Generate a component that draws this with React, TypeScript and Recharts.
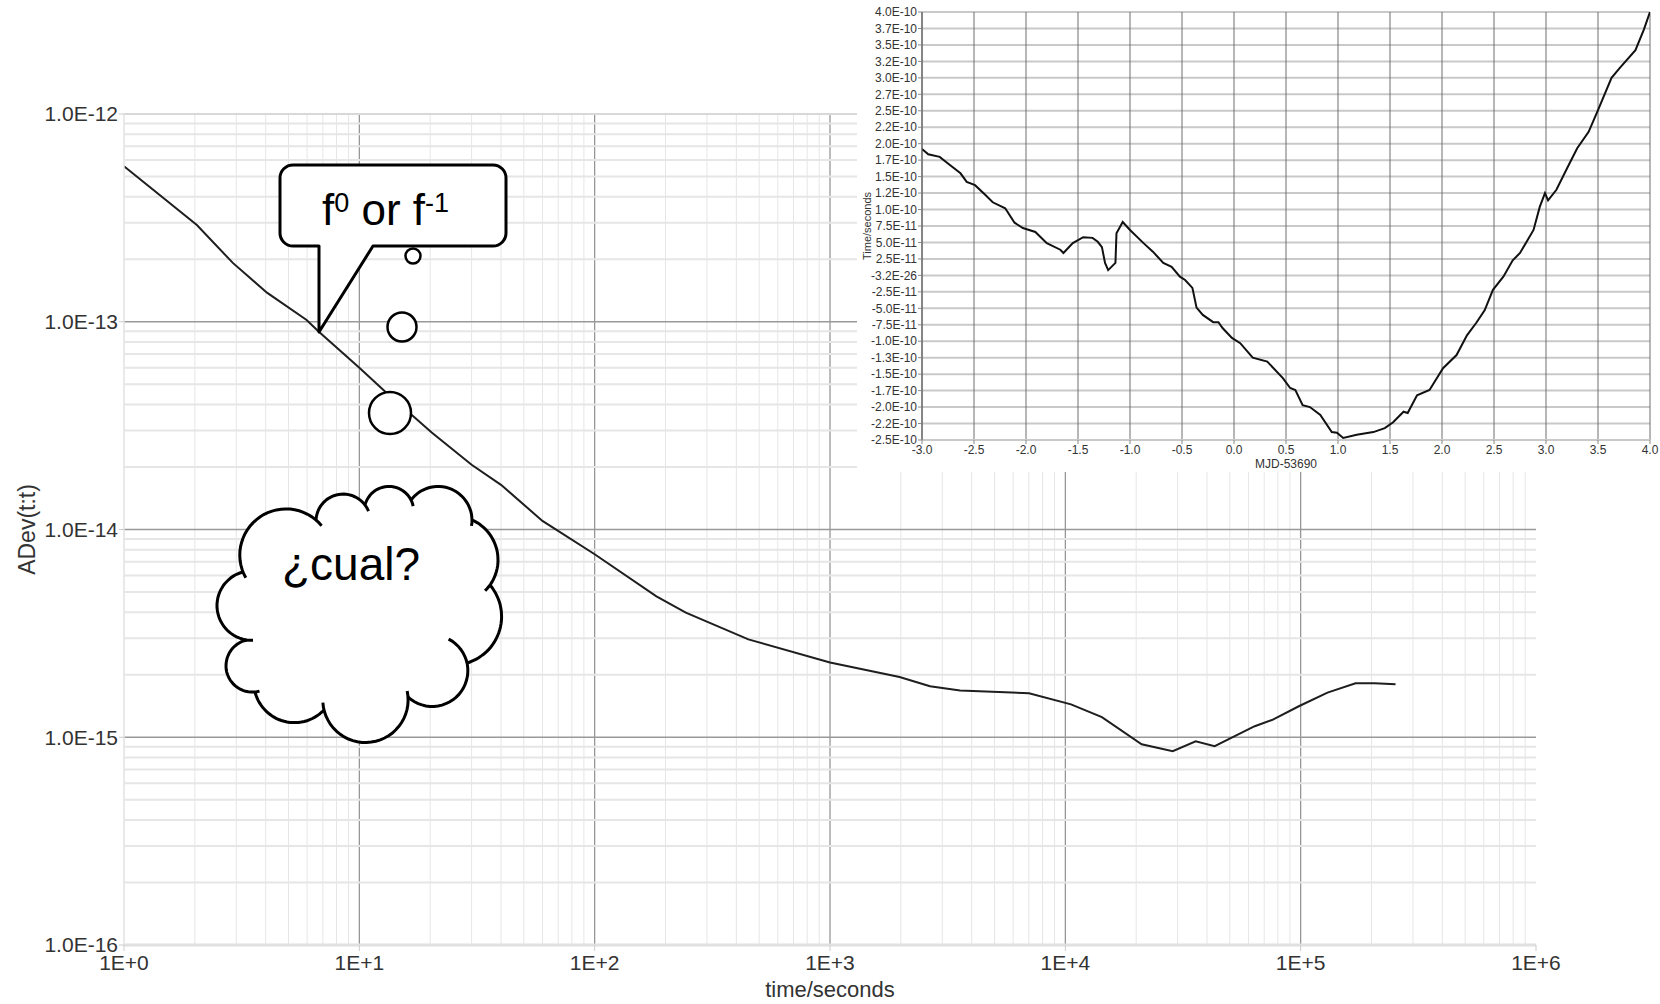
import React from 'react';
import { LineChart, Line, XAxis, YAxis, ReferenceLine, CartesianGrid } from 'recharts';

const FONT = '"Liberation Sans", Arial, sans-serif';

// main plot: Allan deviation vs averaging time
const TAU = [
  1, 2.04, 2.9, 4.05, 5.97, 6.73, 10, 13, 16.3, 20.3, 30, 40, 60, 100, 183, 244, 450, 1000, 1975,
  2660, 3570, 7010, 10570, 14300, 21100, 28600, 35800, 43100, 63800, 75500, 98200, 130000,
  171000, 206000, 253000,
];
const ADEV = [
  5.6e-13, 2.92e-13, 1.92e-13, 1.38e-13, 1.02e-13, 8.95e-14, 6.0e-14, 4.57e-14, 3.65e-14, 2.93e-14,
  2.05e-14, 1.64e-14, 1.1e-14, 7.6e-15, 4.77e-15, 3.98e-15, 2.96e-15, 2.29e-15, 1.95e-15,
  1.76e-15, 1.68e-15, 1.63e-15, 1.44e-15, 1.25e-15, 9.25e-16, 8.57e-16, 9.57e-16, 9.05e-16,
  1.13e-15, 1.21e-15, 1.41e-15, 1.64e-15, 1.82e-15, 1.82e-15, 1.8e-15,
];
const X_TICKS = [1, 10, 100, 1e3, 1e4, 1e5, 1e6];
const Y_TICKS = [1e-16, 1e-15, 1e-14, 1e-13, 1e-12];

// inset: time offset (units of 1e-10 s) vs MJD-53690
const MJD = [
  -3.0, -2.94, -2.83, -2.75, -2.63, -2.57, -2.49, -2.39, -2.32, -2.2, -2.11, -2.03, -1.91, -1.8,
  -1.67, -1.64, -1.55, -1.45, -1.36, -1.31, -1.27, -1.24, -1.21, -1.14, -1.13, -1.07, -1.0, -0.87,
  -0.78, -0.68, -0.6, -0.52, -0.47, -0.4, -0.36, -0.3, -0.2, -0.15, -0.11, -0.02, 0.06, 0.18, 0.32,
  0.47, 0.54, 0.59, 0.66, 0.73, 0.83, 0.94, 0.99, 1.05, 1.18, 1.34, 1.45, 1.53, 1.63, 1.67, 1.76,
  1.88, 2.01, 2.14, 2.24, 2.33, 2.41, 2.49, 2.59, 2.68, 2.75, 2.88, 2.94, 2.99, 3.02, 3.1, 3.21,
  3.3, 3.41, 3.5, 3.63, 3.71, 3.86, 3.94, 4.0,
];
const OFFSET_E10 = [
  1.92, 1.84, 1.8, 1.7, 1.55, 1.42, 1.37, 1.22, 1.11, 1.02, 0.8, 0.72, 0.66, 0.49, 0.39, 0.34, 0.49,
  0.58, 0.57, 0.51, 0.43, 0.19, 0.08, 0.19, 0.64, 0.81, 0.69, 0.49, 0.36, 0.19, 0.13, -0.02, -0.07,
  -0.19, -0.49, -0.6, -0.71, -0.71, -0.8, -0.95, -1.03, -1.25, -1.31, -1.56, -1.71, -1.74, -1.97,
  -2.0, -2.12, -2.38, -2.39, -2.47, -2.42, -2.38, -2.32, -2.23, -2.07, -2.09, -1.82, -1.74, -1.41,
  -1.21, -0.91, -0.72, -0.53, -0.22, -0.02, 0.23, 0.34, 0.69, 1.04, 1.25, 1.14, 1.3, 1.65, 1.93,
  2.18, 2.51, 3.0, 3.15, 3.42, 3.73, 4.0,
];
const INSET_X_TICKS = [-3, -2.5, -2, -1.5, -1, -0.5, 0, 0.5, 1, 1.5, 2, 2.5, 3, 3.5, 4];
const INSET_Y_TICKS = [
  4.0, 3.75, 3.5, 3.25, 3.0, 2.75, 2.5, 2.25, 2.0, 1.75, 1.5, 1.25, 1.0, 0.75, 0.5, 0.25, 0,
  -0.25, -0.5, -0.75, -1.0, -1.25, -1.5, -1.75, -2.0, -2.25, -2.5,
];
const INSET_Y_LABELS = [
  '4.0E-10', '3.7E-10', '3.5E-10', '3.2E-10', '3.0E-10', '2.7E-10', '2.5E-10', '2.2E-10',
  '2.0E-10', '1.7E-10', '1.5E-10', '1.2E-10', '1.0E-10', '7.5E-11', '5.0E-11', '2.5E-11',
  '-3.2E-26', '-2.5E-11', '-5.0E-11', '-7.5E-11', '-1.0E-10', '-1.3E-10', '-1.5E-10', '-1.7E-10',
  '-2.0E-10', '-2.2E-10', '-2.5E-10',
];

const mainData = TAU.map((t, i) => ({ tau: t, adev: ADEV[i] }));
const insetData = MJD.map((m, i) => ({ mjd: m, off: OFFSET_E10[i] }));

const MULT = [1, 2, 3, 4, 5, 6, 7, 8, 9];
const gridX = [1, 10, 100, 1e3, 1e4, 1e5].flatMap((d) => MULT.map((m) => m * d));
const gridY = [1e-16, 1e-15, 1e-14, 1e-13].flatMap((d) => MULT.map((m) => m * d));

// cloud outline: bumps between nodes, going clockwise
type Pt = [number, number];
const CLOUD_NODES: Pt[] = [
  [243, 572], [316, 520], [365, 505], [411, 500], [472, 520], [490, 585],
  [467, 663], [408, 697], [324, 710], [255, 692], [247, 640],
];
const CLOUD_BULGE = [35, 18, 16, 23, 16, 22, 25, 39, 21, 25, 28];
const CLOUD_STUB: [number, number][] = [
  [8, 10], [0, 15], [0, 15], [0, 10], [0, 10], [0, 0], [50, 0], [8, 10], [0, 0], [10, 0], [10, 0],
];

function arcPts(p0: Pt, p1: Pt, h: number, e0: number, e1: number, n = 30): Pt[] {
  const dx = p1[0] - p0[0];
  const dy = p1[1] - p0[1];
  const c = Math.hypot(dx, dy);
  const nx = dy / c;
  const ny = -dx / c;
  const r = (c * c) / 4 / (2 * h) + h / 2;
  const cx = (p0[0] + p1[0]) / 2 + nx * (h - r);
  const cy = (p0[1] + p1[1]) / 2 + ny * (h - r);
  const a0 = Math.atan2(p0[1] - cy, p0[0] - cx);
  let a1 = Math.atan2(p1[1] - cy, p1[0] - cx);
  while (a1 <= a0) a1 += 2 * Math.PI;
  const s = a0 - (e0 * Math.PI) / 180;
  const e = a1 + (e1 * Math.PI) / 180;
  const out: Pt[] = [];
  for (let k = 0; k <= n; k++) {
    const a = s + ((e - s) * k) / n;
    out.push([cx + r * Math.cos(a), cy + r * Math.sin(a)]);
  }
  return out;
}

const toPath = (pts: Pt[]) =>
  pts.map((p, i) => `${i ? 'L' : 'M'}${p[0].toFixed(1)},${p[1].toFixed(1)}`).join(' ');

function Cloud() {
  const N = CLOUD_NODES.length;
  const fill: Pt[] = [];
  const strokes: string[] = [];
  for (let i = 0; i < N; i++) {
    const p0 = CLOUD_NODES[i];
    const p1 = CLOUD_NODES[(i + 1) % N];
    fill.push(...arcPts(p0, p1, CLOUD_BULGE[i], 0, 0));
    strokes.push(toPath(arcPts(p0, p1, CLOUD_BULGE[i], CLOUD_STUB[i][0], CLOUD_STUB[i][1])));
  }
  return (
    <g>
      <path d={toPath(fill) + ' Z'} fill="#fff" stroke="none" />
      {strokes.map((d, i) => (
        <path key={i} d={d} fill="none" stroke="#000" strokeWidth={3} />
      ))}
      <text x={351} y={580} fontSize={46} fontFamily={FONT} textAnchor="middle" fill="#000">
        ¿cual?
      </text>
    </g>
  );
}

function SpeechBubble() {
  const l = 280, r = 506, t = 165, b = 246, rad = 13;
  const d = [
    `M${l + rad},${t}`,
    `L${r - rad},${t}`,
    `A${rad},${rad} 0 0 1 ${r},${t + rad}`,
    `L${r},${b - rad}`,
    `A${rad},${rad} 0 0 1 ${r - rad},${b}`,
    `L373,${b}`,
    'L319,332',
    `L319,${b}`,
    `L${l + rad},${b}`,
    `A${rad},${rad} 0 0 1 ${l},${b - rad}`,
    `L${l},${t + rad}`,
    `A${rad},${rad} 0 0 1 ${l + rad},${t}`,
    'Z',
  ].join(' ');
  return (
    <g>
      <path d={d} fill="#fff" stroke="#000" strokeWidth={3} strokeLinejoin="round" />
      <text x={322} y={225} fontSize={44} fontFamily={FONT} fill="#000">
        f
        <tspan dy={-13} fontSize={27}>0</tspan>
        <tspan dy={13}> or f</tspan>
        <tspan dy={-13} fontSize={27}>-1</tspan>
      </text>
      <circle cx={413} cy={256} r={7.5} fill="#fff" stroke="#000" strokeWidth={2.5} />
      <circle cx={402} cy={327} r={14.5} fill="#fff" stroke="#000" strokeWidth={2.5} />
      <circle cx={390} cy={413} r={21} fill="#fff" stroke="#000" strokeWidth={2.5} />
    </g>
  );
}

const majorX = (v: number) => [10, 100, 1e3, 1e4, 1e5].includes(v);
const majorY = (v: number) => [1e-15, 1e-14, 1e-13].includes(v);

export default function App() {
  return (
    <div style={{ position: 'absolute', left: 0, top: 0, width: 1660, height: 1004, background: '#fff', overflow: 'hidden' }}>
      <div style={{ position: 'absolute', left: 0, top: 0 }}>
        <LineChart width={1660} height={1004} data={mainData} margin={{ top: 114, right: 124, bottom: 0, left: 0 }}>
          {gridX.map((v) => (
            <ReferenceLine
              key={`gx${v}`}
              x={v}
              stroke={majorX(v) ? '#8f8f8f' : '#e6e6e6'}
              strokeWidth={majorX(v) ? 1.2 : 1}
            />
          ))}
          {gridY.map((v) => (
            <ReferenceLine
              key={`gy${v}`}
              y={v}
              stroke={majorY(v) ? '#999' : '#e6e6e6'}
              strokeWidth={majorY(v) ? 1.5 : 2}
            />
          ))}
          <ReferenceLine y={1e-12} stroke="#d8d8d8" strokeWidth={2} />
          <XAxis
            dataKey="tau"
            type="number"
            scale="log"
            domain={[1, 1e6]}
            ticks={X_TICKS}
            allowDataOverflow
            height={59}
            axisLine={{ stroke: '#e0e0e0', strokeWidth: 3 }}
            tickLine={{ stroke: '#ccc' }}
            tickSize={6}
            tickMargin={4}
            tick={{ fill: '#333', fontSize: 21, fontFamily: FONT }}
            tickFormatter={(v: number) => v.toExponential(0).toUpperCase()}
            label={{ value: 'time/seconds', position: 'insideBottom', offset: 7, fill: '#333', fontSize: 22, fontFamily: FONT }}
          />
          <YAxis
            dataKey="adev"
            type="number"
            scale="log"
            domain={[1e-16, 1e-12]}
            ticks={Y_TICKS}
            allowDataOverflow
            width={124}
            axisLine={{ stroke: '#e6e6e6', strokeWidth: 1.5 }}
            tickLine={{ stroke: '#ccc' }}
            tickSize={5}
            tickMargin={1}
            tick={{ fill: '#333', fontSize: 21, fontFamily: FONT }}
            tickFormatter={(v: number) => v.toExponential(1).toUpperCase()}
            label={{
              value: 'ADev(t:t)',
              angle: -90,
              position: 'insideLeft',
              offset: 27,
              fill: '#333',
              fontSize: 23,
              fontFamily: FONT,
              style: { textAnchor: 'middle' },
            }}
          />
          <Line
            dataKey="adev"
            type="linear"
            stroke="#1e1e1e"
            strokeWidth={2}
            dot={false}
            isAnimationActive={false}
          />
        </LineChart>
      </div>

      <div style={{ position: 'absolute', left: 857, top: 0, width: 803, height: 472, background: '#fff' }}>
        <LineChart width={803} height={472} data={insetData} margin={{ top: 12, right: 10, bottom: 0, left: 0 }}>
          <CartesianGrid vertical={false} stroke="#c9c9c9" strokeWidth={2} />
          <CartesianGrid horizontal={false} stroke="#6f6f6f" strokeWidth={1} />
          <XAxis
            dataKey="mjd"
            type="number"
            domain={[-3, 4]}
            ticks={INSET_X_TICKS}
            allowDataOverflow
            height={32}
            axisLine={{ stroke: '#c9c9c9', strokeWidth: 2 }}
            tickLine={{ stroke: '#888' }}
            tickSize={4}
            tickMargin={1}
            tick={{ fill: '#333', fontSize: 12, fontFamily: FONT }}
            tickFormatter={(v: number) => v.toFixed(1)}
            label={{ value: 'MJD-53690', position: 'insideBottom', offset: 4, fill: '#333', fontSize: 12, fontFamily: FONT }}
          />
          <YAxis
            dataKey="off"
            type="number"
            domain={[-2.5, 4]}
            ticks={INSET_Y_TICKS}
            interval={0}
            allowDataOverflow
            width={65}
            axisLine={{ stroke: '#555' }}
            tickLine={{ stroke: '#888' }}
            tickSize={4}
            tickMargin={1}
            tick={{ fill: '#333', fontSize: 12, fontFamily: FONT }}
            tickFormatter={(v: number) => INSET_Y_LABELS[INSET_Y_TICKS.indexOf(v)] ?? ''}
            label={{
              value: 'Time/seconds',
              angle: -90,
              position: 'insideLeft',
              offset: 10,
              fill: '#333',
              fontSize: 11,
              fontFamily: FONT,
              style: { textAnchor: 'middle' },
            }}
          />
          <Line
            dataKey="off"
            type="linear"
            stroke="#111"
            strokeWidth={2}
            dot={false}
            isAnimationActive={false}
          />
        </LineChart>
      </div>

      <svg
        width={1660}
        height={1004}
        style={{ position: 'absolute', left: 0, top: 0, pointerEvents: 'none' }}
      >
        <SpeechBubble />
        <Cloud />
      </svg>
    </div>
  );
}
